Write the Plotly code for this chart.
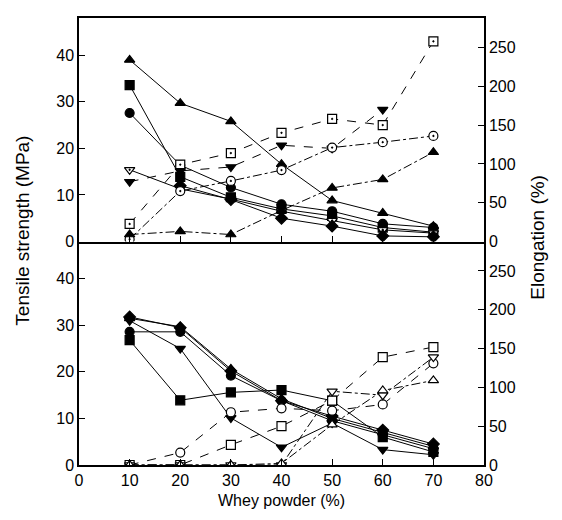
import plotly.graph_objects as go

# Whey powder content (%)
whey = [10, 20, 30, 40, 50, 60, 70]

# ---- Upper panel: tensile strength (MPa), left axis ----
ts_top_tri = [39.0, 29.7, 25.8, 16.6, 8.8, 6.1, 3.3]
ts_top_sq = [33.6, 13.9, 9.5, 7.0, 5.5, 3.0, 2.0]
ts_top_circ = [27.6, 16.4, 11.6, 8.0, 6.5, 3.8, 3.0]
ts_top_tridown = [15.4, 11.3, 9.1, 6.5, 4.5, 2.5, 1.8]
ts_top_diam = [None, 12.0, 9.0, 5.0, 3.3, 1.2, 1.0]

# ---- Upper panel: elongation (%), right axis ----
el_top_sqdot = [22.6, 99, 114, 140, 158, 150, 258]
el_top_tridown = [77, 91, 96, 124, 120, 170, None]
el_top_circdot = [3, 65, 78, 92, 121, 128, 136]
el_top_tri = [9, 13, 9, 40, 69, 80, 115]

# ---- Lower panel: tensile strength (MPa), left axis ----
ts_bot_diam = [31.8, 29.5, 20.2, 13.8, 10.5, 7.5, 4.5]
ts_bot_tri = [31.5, 29.7, 20.6, 14.2, 10.0, 7.0, 4.0]
ts_bot_circ = [28.6, 28.6, 19.2, 13.8, 9.5, 6.5, 3.5]
ts_bot_sq = [26.8, 13.9, 15.6, 16.1, 13.8, 6.0, 2.8]
ts_bot_tridown = [31.0, 25.0, 10.1, 3.8, 9.0, 3.3, 2.2]

# ---- Lower panel: elongation (%), right axis ----
el_bot_circ = [0, 16, 68, 73, 70, 78, 131]
el_bot_sq = [0, 0, 26, 50, 83, 139, 152]
el_bot_tridown = [0, 0, 0, 0, 95, 90, 139]
el_bot_tri = [0, 0, 0, 2, 52, 96, 109]

# axis tick values
left_ticks = [0, 10, 20, 30, 40]
right_ticks = [0, 50, 100, 150, 200, 250]
x_ticks = [0, 10, 20, 30, 40, 50, 60, 70, 80]

FONT = "Liberation Sans, Arial, sans-serif"
fig = go.Figure()

def add(y, xaxis, yaxis, symbol, filled, dash):
    fig.add_trace(go.Scatter(
        x=whey, y=y, xaxis=xaxis, yaxis=yaxis, mode="lines+markers",
        connectgaps=False,
        line=dict(color="black", width=1, dash=dash),
        marker=dict(symbol=symbol, size=9,
                    color="black" if filled else "white",
                    line=dict(color="black", width=1.2)),
        showlegend=False, hoverinfo="skip"))

# upper panel
add(ts_top_tri, "x2", "y", "triangle-up", True, "solid")
add(ts_top_sq, "x2", "y", "square", True, "solid")
add(ts_top_circ, "x2", "y", "circle", True, "solid")
add(ts_top_tridown, "x2", "y", "triangle-down-dot", False, "solid")
add(ts_top_diam, "x2", "y", "diamond", True, "solid")
add(el_top_sqdot, "x2", "y2", "square-dot", False, "dash")
add(el_top_tridown, "x2", "y2", "triangle-down", True, "dash")
add(el_top_circdot, "x2", "y2", "circle-dot", False, "dashdot")
add(el_top_tri, "x2", "y2", "triangle-up", True, "dashdot")

# lower panel
add(ts_bot_diam, "x", "y3", "diamond", True, "solid")
add(ts_bot_tri, "x", "y3", "triangle-up", True, "solid")
add(ts_bot_circ, "x", "y3", "circle", True, "solid")
add(ts_bot_sq, "x", "y3", "square", True, "solid")
add(ts_bot_tridown, "x", "y3", "triangle-down", True, "solid")
add(el_bot_circ, "x", "y4", "circle", False, "dash")
add(el_bot_sq, "x", "y4", "square", False, "dash")
add(el_bot_tridown, "x", "y4", "triangle-down", False, "dashdot")
add(el_bot_tri, "x", "y4", "triangle-up", False, "dashdot")

tickfont = dict(family=FONT, size=16, color="black")
common = dict(showgrid=False, zeroline=False, showline=True, linecolor="black",
              linewidth=1.5, ticks="inside", ticklen=6, tickwidth=1.2,
              tickcolor="black", tickfont=tickfont)

fig.update_layout(
    width=562, height=520,
    margin=dict(l=71, r=86, t=8, b=63),
    paper_bgcolor="white", plot_bgcolor="white",
    xaxis=dict(range=[0, 80], tickvals=x_ticks, anchor="y3", mirror=False, **common),
    xaxis2=dict(range=[0, 80], tickvals=x_ticks, anchor="y", matches="x",
                showticklabels=False, mirror=True, **common),
    yaxis=dict(domain=[0.5, 1], range=[0, 48], tickvals=left_ticks, anchor="x2", **common),
    yaxis2=dict(domain=[0.5, 1], range=[0, 288], tickvals=right_ticks,
                overlaying="y", side="right", anchor="x2", **common),
    yaxis3=dict(domain=[0, 0.5], range=[0, 48], tickvals=left_ticks, anchor="x", **common),
    yaxis4=dict(domain=[0, 0.5], range=[0, 288], tickvals=right_ticks,
                overlaying="y3", side="right", anchor="x", **common),
)

vtitle = dict(family=FONT, size=19, color="black")
htitle = dict(family=FONT, size=16, color="black")
fig.add_annotation(text="Tensile strength (MPa)", xref="paper", yref="paper",
                   x=-0.14, y=0.525, textangle=-90, showarrow=False,
                   xanchor="center", yanchor="middle", font=vtitle)
fig.add_annotation(text="Elongation (%)", xref="paper", yref="paper",
                   x=1.13, y=0.51, textangle=-90, showarrow=False,
                   xanchor="center", yanchor="middle", font=vtitle)
fig.add_annotation(text="Whey powder (%)", xref="paper", yref="paper",
                   x=0.5, y=-0.08, showarrow=False,
                   xanchor="center", yanchor="middle", font=htitle)

fig.write_html("out.html")
